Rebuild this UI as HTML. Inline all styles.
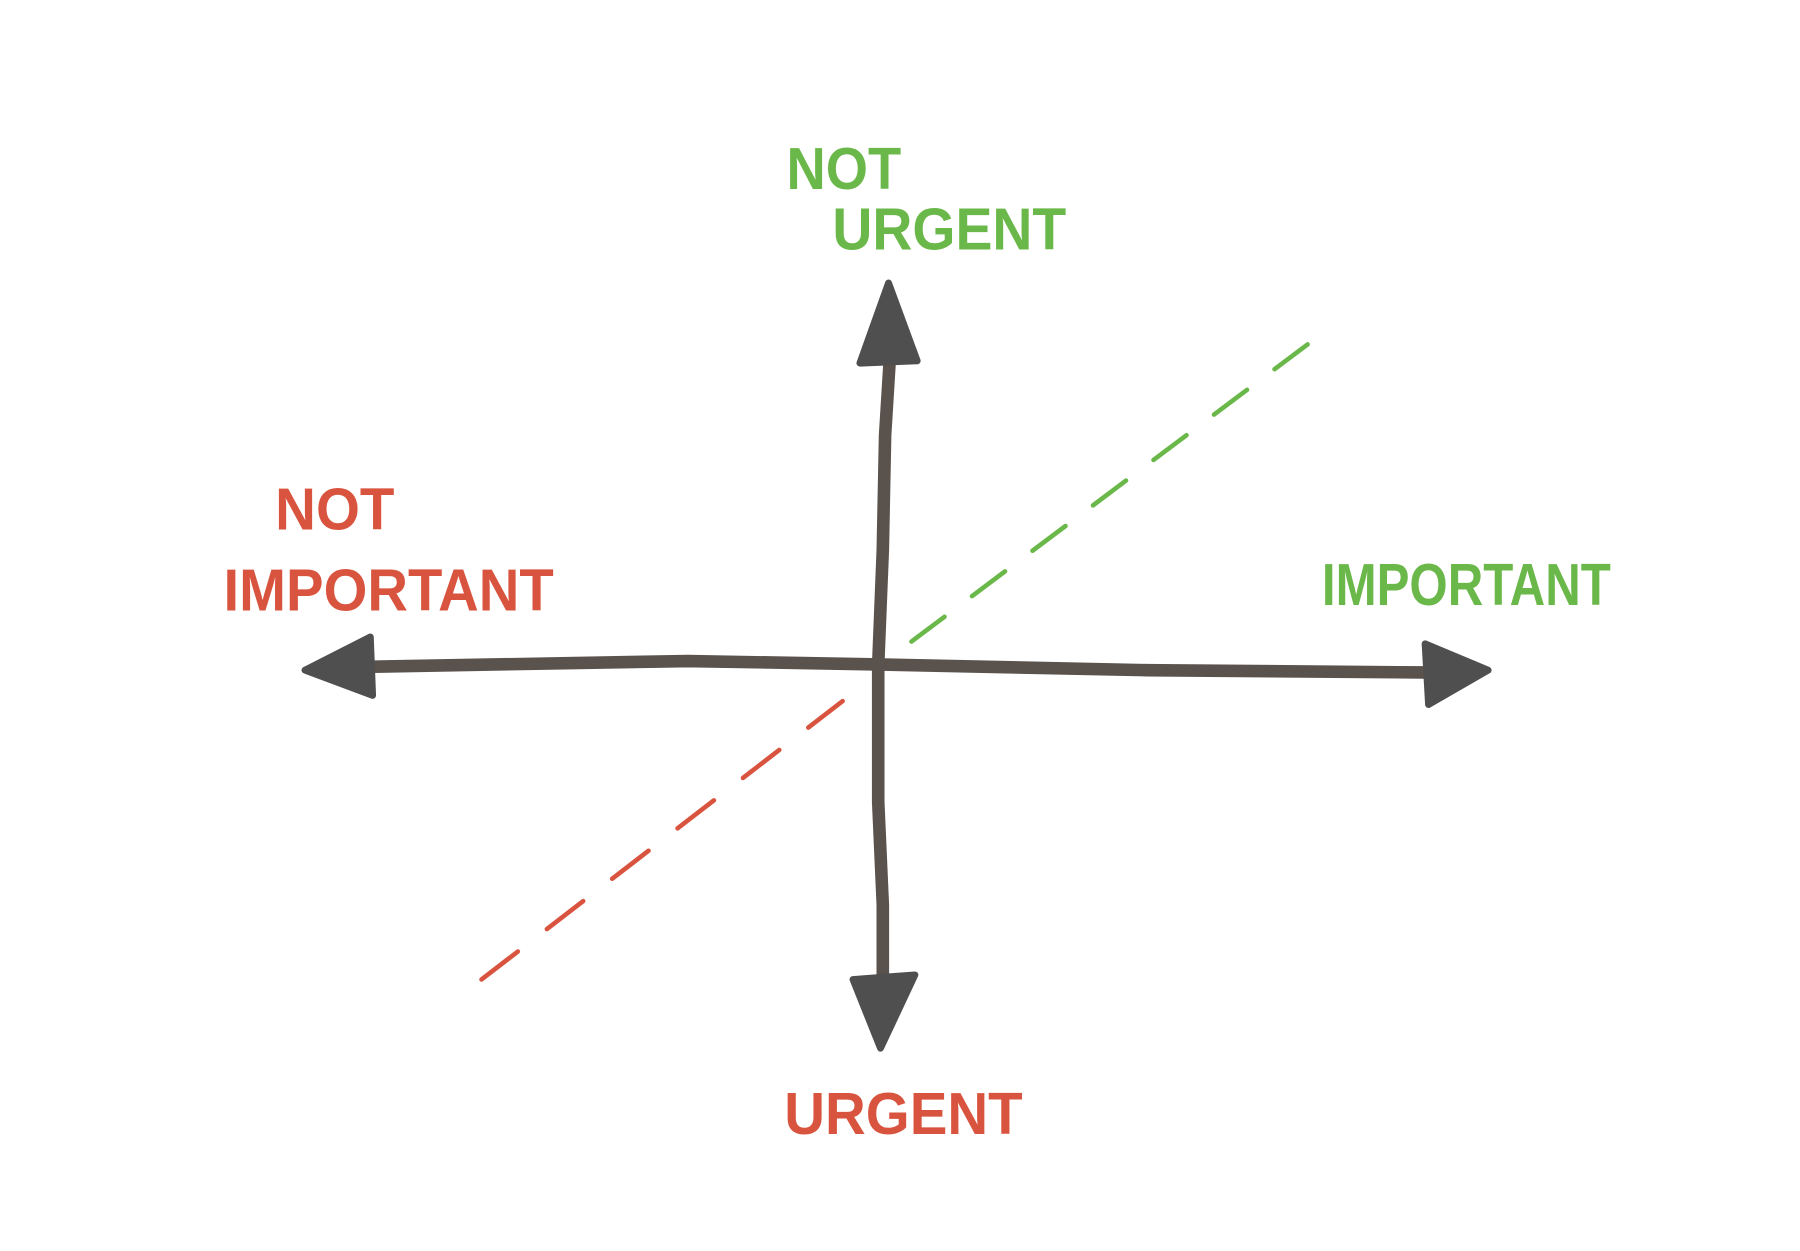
<!DOCTYPE html>
<html><head><meta charset="utf-8"><style>
html,body{margin:0;padding:0;background:#fff;}
svg{display:block;}
text{font-family:"Liberation Sans",sans-serif;font-weight:bold;}
</style></head><body>
<svg width="1800" height="1251" viewBox="0 0 1570 1092" preserveAspectRatio="none" xmlns="http://www.w3.org/2000/svg">
<rect width="1570" height="1092" fill="#fff"/>
<g stroke-width="4" stroke-linecap="round" fill="none">
<path d="M795 560 L1152 292" stroke="#6bb84a" stroke-dasharray="36 30"/>
<path d="M420 855 L735 612" stroke="#d9543f" stroke-dasharray="40 32"/>
</g>
<g stroke="#5a524c" stroke-width="11" stroke-linecap="round" fill="none">
<path d="M776 315 L772 380 L770 480 L766 580 L766 700 L770 790 L770 852"/>
<path d="M322 582 L600 577 L766 580 L1000 585 L1242 587"/>
</g>
<g fill="#4f4f4f" stroke="#4f4f4f" stroke-width="6" stroke-linejoin="round">
<path d="M775 247 L800 315 L750 317 Z"/>
<path d="M744 855 L798 851 L768 915 Z"/>
<path d="M266 585 L323 556 L325 607 Z"/>
<path d="M1298 585 L1243 562 L1246 615 Z"/>
</g>
<g font-size="52">
<text x="686" y="165" fill="#6bb84a" textLength="100" lengthAdjust="spacingAndGlyphs">NOT</text>
<text x="726" y="218" fill="#6bb84a" textLength="204" lengthAdjust="spacingAndGlyphs">URGENT</text>
<text x="240" y="462" fill="#d9543f" textLength="104" lengthAdjust="spacingAndGlyphs">NOT</text>
<text x="195" y="533" fill="#d9543f" textLength="288" lengthAdjust="spacingAndGlyphs">IMPORTANT</text>
<text x="1153" y="528" fill="#6bb84a" textLength="252" lengthAdjust="spacingAndGlyphs">IMPORTANT</text>
<text x="684" y="990" fill="#d9543f" textLength="208" lengthAdjust="spacingAndGlyphs">URGENT</text>
</g>
</svg>
</body></html>
